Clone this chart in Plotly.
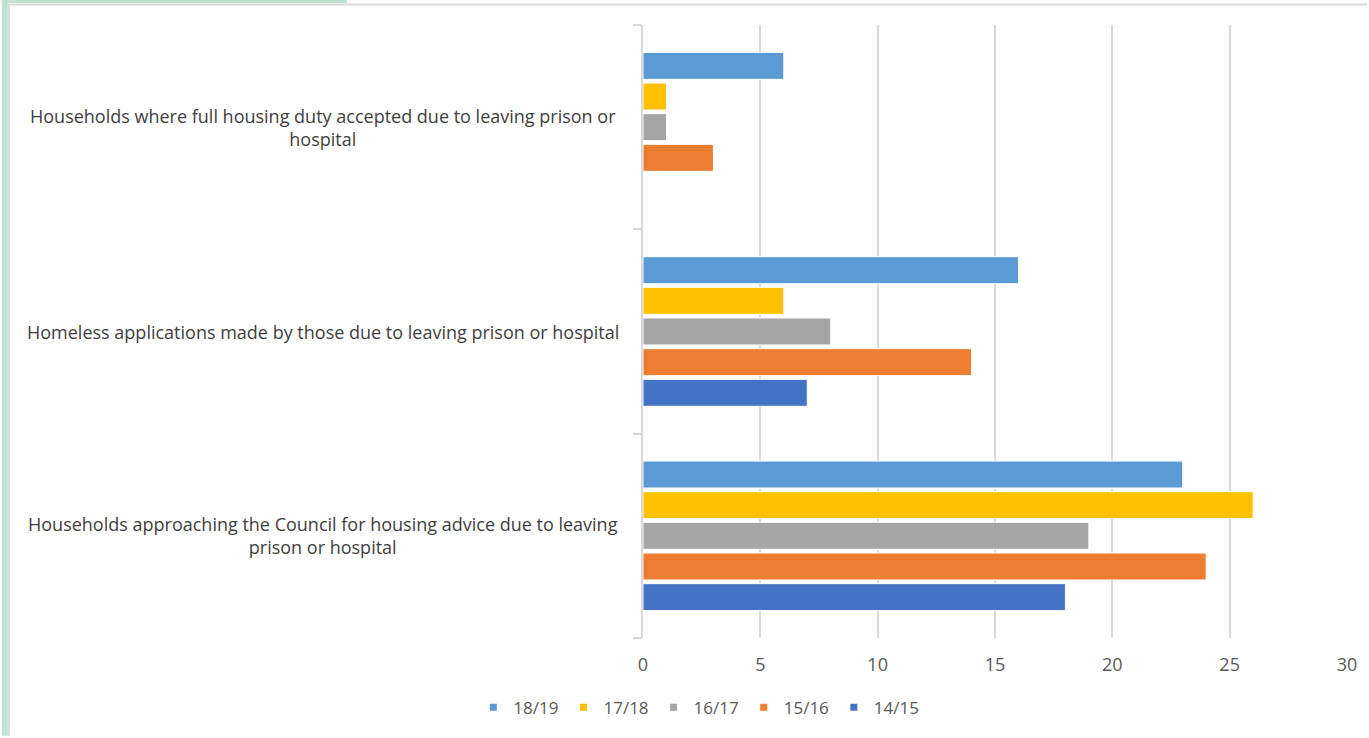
import plotly.graph_objects as go

# categories, bottom to top as plotly draws them
categories = [
    "Households approaching the Council for housing advice due to leaving prison or hospital",
    "Homeless applications made by those due to leaving prison or hospital",
    "Households where full housing duty accepted due to leaving prison or hospital",
]
category_labels = [
    "Households approaching the Council for housing advice due to leaving<br>prison or hospital",
    "Homeless applications made by those due to leaving prison or hospital",
    "Households where full housing duty accepted due to leaving prison or<br>hospital",
]

years = ["14/15", "15/16", "16/17", "17/18", "18/19"]
v_14_15 = [18, 7, 0]
v_15_16 = [24, 14, 3]
v_16_17 = [19, 8, 1]
v_17_18 = [26, 6, 1]
v_18_19 = [23, 16, 6]
series = [v_14_15, v_15_16, v_16_17, v_17_18, v_18_19]
colors = ["#4472C4", "#ED7D31", "#A5A5A5", "#FFC000", "#5B9BD5"]

W_FIG, H_FIG = 1369, 738
L, R, T, B = 643, 20, 25, 98
PW, PH = W_FIG - L - R, H_FIG - T - B


def px_x(p):
    return (p - L) / PW


def px_y(p):
    return 1 - (p - T) / PH


fig = go.Figure()
for name, vals, col in zip(years, series, colors):
    fig.add_trace(go.Bar(y=categories, x=vals, name=name, orientation="h", showlegend=False,
                         marker=dict(color=col, line=dict(color="white", width=1))))

# small square legend keys, like the original
for name, col in zip(years, colors):
    fig.add_trace(go.Scatter(x=[None], y=[None], name=name, mode="markers",
                             marker=dict(symbol="square", size=7, color=col)))

# category labels, centred like the original
for cat, lab in zip(categories, category_labels):
    fig.add_annotation(x=px_x(322), xref="paper", y=cat, yref="y", text=lab,
                       showarrow=False, xanchor="center", align="center",
                       font=dict(size=18, color="#404040"))

# page decoration: mint strips and grey frame
fig.add_shape(type="rect", xref="paper", yref="paper", x0=px_x(0), x1=px_x(6),
              y0=px_y(0), y1=px_y(H_FIG), fillcolor="#BFE3D3", line_width=0, layer="below")
fig.add_shape(type="rect", xref="paper", yref="paper", x0=px_x(0), x1=px_x(346),
              y0=px_y(0), y1=px_y(3), fillcolor="#BFE3D3", line_width=0, layer="below")
fig.add_shape(type="line", xref="paper", yref="paper", x0=px_x(6), x1=px_x(W_FIG),
              y0=px_y(4.5), y1=px_y(4.5), line=dict(color="#D9D9D9", width=2))
fig.add_shape(type="line", xref="paper", yref="paper", x0=px_x(7), x1=px_x(7),
              y0=px_y(4), y1=px_y(H_FIG), line=dict(color="#D9D9D9", width=2))

fig.update_layout(
    width=W_FIG, height=H_FIG,
    template="plotly_white",
    plot_bgcolor="white", paper_bgcolor="white",
    barmode="group", bargap=0.25, bargroupgap=0.12,
    margin=dict(l=L, r=R, t=T, b=B),
    font=dict(family="Open Sans", color="#595959"),
    showlegend=True,
    legend=dict(orientation="h", traceorder="reversed", x=px_x(699), xanchor="center",
                y=px_y(710), yanchor="middle", font=dict(size=17, color="#595959"),
                itemwidth=30, tracegroupgap=0),
)
fig.update_xaxes(range=[0, 30], dtick=5, showgrid=True, gridcolor="#D9D9D9", gridwidth=2,
                 zeroline=False, showline=False, tickfont=dict(size=18, color="#595959"),
                 ticks="", ticklabelstandoff=14, fixedrange=True)
fig.update_yaxes(showgrid=False, showticklabels=False, showline=True, linecolor="#D9D9D9",
                 linewidth=2, ticks="outside", tickson="boundaries", ticklen=8,
                 tickcolor="#D9D9D9", tickwidth=2, zeroline=False)

fig.write_html("out.html", config={"displayModeBar": False},
               post_script="document.body.style.margin='0';document.body.style.overflow='hidden';")
